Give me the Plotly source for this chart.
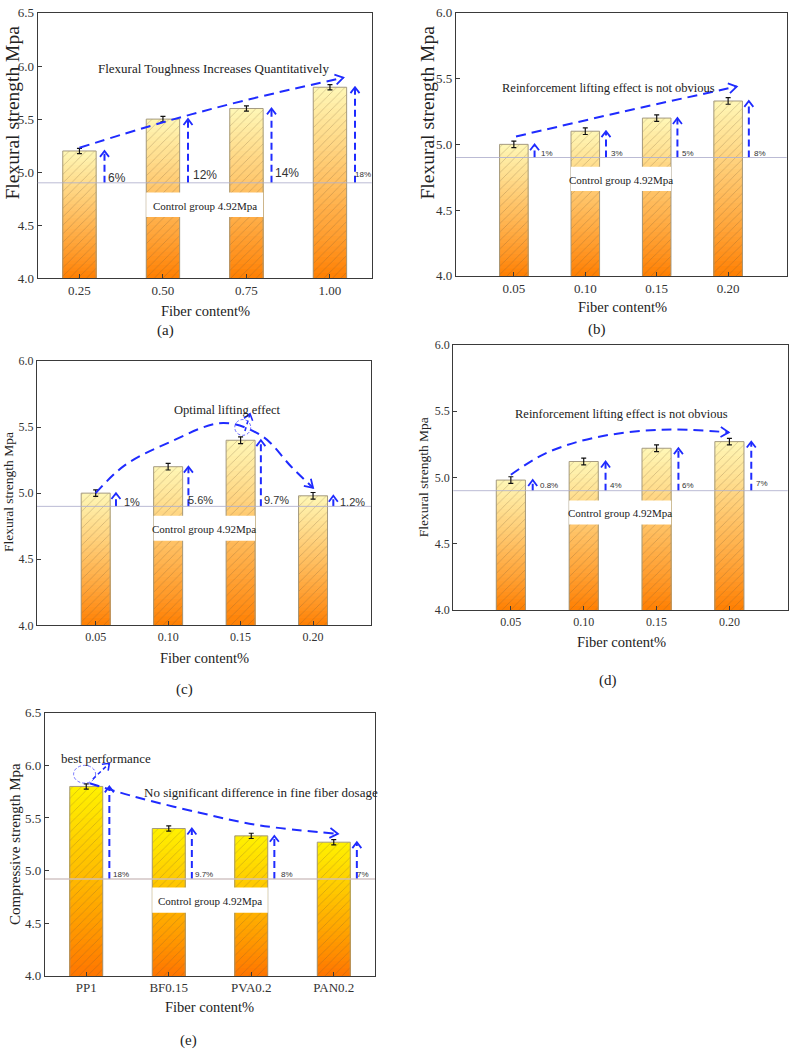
import plotly.graph_objects as go
import math

W, H = 790, 1056

# ---------------- data ----------------
a_labels = ["0.25", "0.50", "0.75", "1.00"]
a_vals = [5.20, 5.50, 5.60, 5.80]
a_err = [0.025, 0.025, 0.025, 0.025]
a_pct = ["6%", "12%", "14%", "18%"]

b_labels = ["0.05", "0.10", "0.15", "0.20"]
b_vals = [5.00, 5.10, 5.20, 5.33]
b_err = [0.025, 0.025, 0.025, 0.025]
b_pct = ["1%", "3%", "5%", "8%"]

c_labels = ["0.05", "0.10", "0.15", "0.20"]
c_vals = [5.00, 5.20, 5.40, 4.98]
c_err = [0.025, 0.025, 0.025, 0.025]
c_pct = ["1%", "5.6%", "9.7%", "1.2%"]

d_labels = ["0.05", "0.10", "0.15", "0.20"]
d_vals = [4.98, 5.12, 5.22, 5.27]
d_err = [0.025, 0.025, 0.025, 0.025]
d_pct = ["0.8%", "4%", "6%", "7%"]

e_labels = ["PP1", "BF0.15", "PVA0.2", "PAN0.2"]
e_vals = [5.80, 5.40, 5.33, 5.27]
e_err = [0.025, 0.025, 0.025, 0.025]
e_pct = ["18%", "9.7%", "8%", "7%"]

control_levels = [4.90, 4.90, 4.90, 4.90, 4.92]
control_text = "Control group 4.92Mpa"

# ---------------- styling / layout per panel ----------------
SERIF = "Liberation Serif"
SANS = "Liberation Sans"
BLUE = "#1f2bff"

panels = [
    dict(labels=a_labels, vals=a_vals, err=a_err, pct=a_pct, ctrl=control_levels[0],
         px=(37.7, 371.7, 6.0, 275.3), xr=(-0.5, 3.5), yr=(4.0, 6.5),
         top=(255, 248, 182), bot=(255, 126, 0),
         box=(4.577, 4.808), ctext_y=4.68,
         pct_dx=[0.45, 0.50, 0.48, 0.40], pct_y=[4.95, 4.97, 4.99, 4.98],
         pct_size=[12, 12, 12, 8], pct_font=SANS,
         arr_dx=0.30,
         curve=[(0.0, 5.23), (1.0, 5.47), (2.0, 5.68), (3.16, 5.89)],
         note=("Flexural Toughness Increases Quantitatively", 1.6, 5.98, 13),
         ytitle=("Flexural strength Mpa", 12, 107, 19.5),
         xtitle=("Fiber content%", 205, 308, 14.5),
         plabel=("(a)", 165, 328), tick_size=13),
    dict(labels=b_labels, vals=b_vals, err=b_err, pct=b_pct, ctrl=control_levels[1],
         px=(456.0, 786.7, 6.0, 272.7), xr=(-0.81, 3.82), yr=(4.0, 6.0),
         top=(255, 248, 182), bot=(255, 126, 0),
         box=(4.645, 4.83), ctext_y=4.73,
         pct_dx=[0.46, 0.44, 0.44, 0.45], pct_y=[4.93, 4.93, 4.93, 4.93],
         pct_size=[8, 8, 8, 8], pct_font=SANS,
         arr_dx=0.29,
         curve=[(0.03, 5.06), (1.5, 5.245), (3.12, 5.44)],
         note=("Reinforcement lifting effect is not obvious", 1.32, 5.43, 12.5),
         ytitle=("Flexural strength Mpa", 427, 107, 19.5),
         xtitle=("Fiber content%", 622, 304, 14.5),
         plabel=("(b)", 597, 327), tick_size=13),
    dict(labels=c_labels, vals=c_vals, err=c_err, pct=c_pct, ctrl=control_levels[2],
         px=(37.0, 371.0, 359.0, 627.3), xr=(-0.81, 3.80), yr=(4.0, 6.0),
         top=(255, 248, 182), bot=(255, 126, 0),
         box=(4.64, 4.83), ctext_y=4.73,
         pct_dx=[0.50, 0.45, 0.49, 0.54], pct_y=[4.93, 4.945, 4.945, 4.93],
         pct_size=[11, 11, 11, 11], pct_font=SANS,
         arr_dx=0.28,
         curve=[(0.0, 5.0), (0.4, 5.21), (1.0, 5.38), (1.76, 5.53), (2.3, 5.43),
                (2.7, 5.2), (3.0, 5.04)],
         note=("Optimal lifting effect", 1.82, 5.63, 12.5),
         ytitle=("Flexural strength Mpa", 8, 492, 13.5),
         xtitle=("Fiber content%", 204, 660, 14.5),
         plabel=("(c)", 184, 692), tick_size=12),
    dict(labels=d_labels, vals=d_vals, err=d_err, pct=d_pct, ctrl=control_levels[3],
         px=(453.3, 787.7, 342.7, 611.7), xr=(-0.79, 3.80), yr=(4.0, 6.0),
         top=(255, 248, 182), bot=(255, 126, 0),
         box=(4.645, 4.825), ctext_y=4.73,
         pct_dx=[0.52, 0.45, 0.43, 0.45], pct_y=[4.94, 4.94, 4.94, 4.955],
         pct_size=[8, 8, 8, 8], pct_font=SANS,
         arr_dx=0.30,
         curve=[(0.0, 5.02), (0.47, 5.18), (1.15, 5.30), (2.07, 5.36), (2.99, 5.34)],
         note=("Reinforcement lifting effect is not obvious", 1.52, 5.48, 12.5),
         ytitle=("Flexural strength Mpa", 423, 477, 13.5),
         xtitle=("Fiber content%", 621, 644, 14.5),
         plabel=("(d)", 608, 683), tick_size=12),
    dict(labels=e_labels, vals=e_vals, err=e_err, pct=e_pct, ctrl=control_levels[4],
         px=(45.0, 375.0, 716.0, 982.7), xr=(-0.5, 3.5), yr=(4.0, 6.5),
         top=(255, 242, 0), bot=(255, 116, 0),
         box=(4.60, 4.84), ctext_y=4.71,
         pct_dx=[0.42, 0.43, 0.43, 0.36], pct_y=[4.96, 4.96, 4.96, 4.96],
         pct_size=[8, 8, 8, 8], pct_font=SANS,
         arr_dx=0.28,
         curve=[(0.04, 5.83), (0.6, 5.70), (1.375, 5.55), (2.1, 5.43), (3.05, 5.35)],
         note=("No significant difference in fine fiber dosage", 2.12, 5.74, 13),
         ytitle=("Compressive strength Mpa", 15, 849, 15),
         xtitle=("Fiber content%", 210, 1014, 14.5),
         plabel=("(e)", 188, 1048), tick_size=13),
]

fig = go.Figure()
shapes = []
annotations = []
N = 36  # gradient steps


def lerp(c0, c1, t):
    return "rgb(%d,%d,%d)" % tuple(round(c0[i] + (c1[i] - c0[i]) * t) for i in range(3))


def chevron(tx, ty, dx_px, dy_px, sx, sy, length=6.0, half=4.5):
    n = math.hypot(dx_px, dy_px)
    ux, uy = dx_px / n, dy_px / n
    px_, py_ = -uy, ux
    p1 = (tx + (-length * ux + half * px_) / sx, ty + (-length * uy + half * py_) / sy)
    p2 = (tx + (-length * ux - half * px_) / sx, ty + (-length * uy - half * py_) / sy)
    return [p1[0], tx, p2[0]], [p1[1], ty, p2[1]]


def paper_text(text, x, y, size, angle=0):
    return dict(text=text, x=x / W, y=1 - y / H, xref="paper", yref="paper",
                xanchor="center", yanchor="middle", showarrow=False, textangle=angle,
                font=dict(family=SERIF, size=size, color="#222"))


for idx, p in enumerate(panels):
    n = idx + 1
    xa = "x" if n == 1 else "x%d" % n
    ya = "y" if n == 1 else "y%d" % n
    x0p, x1p, y0p, y1p = p["px"]
    sx = (x1p - x0p) / (p["xr"][1] - p["xr"][0])
    sy = (y1p - y0p) / (p["yr"][1] - p["yr"][0])
    xs = list(range(len(p["vals"])))
    base = p["yr"][0]

    # gradient bars (nested, tallest first)
    for k in range(N):
        frac = 1 - k / N
        heights = [base + (v - base) * frac for v in p["vals"]]
        t = max(0.0, frac - 0.5 / N)
        fig.add_trace(go.Bar(x=xs, y=heights, width=0.4, xaxis=xa, yaxis=ya,
                             marker=dict(color=lerp(p["bot"], p["top"], t ** 0.9), line=dict(width=0)),
                             showlegend=False, hoverinfo="skip"))
    # hatch overlay + error bars
    fig.add_trace(go.Bar(x=xs, y=p["vals"], width=0.4, xaxis=xa, yaxis=ya,
                         marker=dict(color="rgba(0,0,0,0)",
                                     line=dict(color="rgba(160,150,125,0.95)", width=1),
                                     pattern=dict(shape="/", fgcolor="rgba(110,85,50,0.6)",
                                                  bgcolor="rgba(0,0,0,0)", size=6, solidity=0.14)),
                         error_y=dict(type="data", array=p["err"], color="#111",
                                      thickness=1.2, width=2.5),
                         showlegend=False, hoverinfo="skip"))

    # control line and white box
    shapes.append(dict(type="line", xref=xa + " domain", yref=ya, x0=0, x1=1,
                       y0=p["ctrl"], y1=p["ctrl"], layer="above",
                       line=dict(color="rgba(175,175,205,0.85)" if n < 5 else "rgba(205,190,190,0.9)",
                                 width=1 if n < 5 else 1.5)))
    shapes.append(dict(type="rect", xref=xa, yref=ya, x0=0.8, x1=2.2,
                       y0=p["box"][0], y1=p["box"][1], layer="above",
                       fillcolor="white", line=dict(width=0)))
    annotations.append(dict(text=control_text, x=1.5, y=p["ctext_y"], xref=xa, yref=ya,
                            xanchor="center", yanchor="middle",
                            showarrow=False, font=dict(family=SERIF, size=11, color="#222")))

    # vertical dashed arrows
    for i, v in enumerate(p["vals"]):
        ax = i + p["arr_dx"]
        fig.add_trace(go.Scatter(x=[ax, ax], y=[p["ctrl"], v - 1.0 / sy], mode="lines",
                                 xaxis=xa, yaxis=ya, showlegend=False, hoverinfo="skip",
                                 line=dict(color=BLUE, width=2, dash="7px,4px")))
        cx, cy = chevron(ax, v, 0, 1, sx, sy, length=6, half=4.5)
        fig.add_trace(go.Scatter(x=cx, y=cy, mode="lines", xaxis=xa, yaxis=ya,
                                 showlegend=False, hoverinfo="skip",
                                 line=dict(color=BLUE, width=1.8)))
        annotations.append(dict(text=p["pct"][i], x=i + p["pct_dx"][i], y=p["pct_y"][i],
                                xref=xa, yref=ya, showarrow=False,
                                xanchor="center", yanchor="middle",
                                font=dict(family=p["pct_font"], size=p["pct_size"][i], color="#333")))

    # trend curve
    cxs = [q[0] for q in p["curve"]]
    cys = [q[1] for q in p["curve"]]
    fig.add_trace(go.Scatter(x=cxs, y=cys, mode="lines", xaxis=xa, yaxis=ya,
                             showlegend=False, hoverinfo="skip",
                             line=dict(color=BLUE, width=2, dash="10px,6px", shape="spline",
                                       smoothing=1.0)))
    dxp = (cxs[-1] - cxs[-2]) * sx
    dyp = (cys[-1] - cys[-2]) * sy
    hx, hy = chevron(cxs[-1], cys[-1], dxp, dyp, sx, sy, length=8, half=5)
    fig.add_trace(go.Scatter(x=hx, y=hy, mode="lines", xaxis=xa, yaxis=ya,
                             showlegend=False, hoverinfo="skip",
                             line=dict(color=BLUE, width=1.8)))

    # note text
    t_, tx_, ty_, ts_ = p["note"]
    annotations.append(dict(text=t_, x=tx_, y=ty_, xref=xa, yref=ya, showarrow=False,
                            xanchor="center", yanchor="middle",
                            font=dict(family=SERIF, size=ts_, color="#222")))

    # titles & panel label (paper coords)
    yt, yx, yy, ys = p["ytitle"]
    annotations.append(paper_text(yt, yx, yy, ys, angle=-90))
    xt, xx, xy, xsz = p["xtitle"]
    annotations.append(paper_text(xt, xx, xy, xsz))
    pl, plx, ply = p["plabel"]
    annotations.append(paper_text(pl, plx, ply, 15))

    axis_common = dict(showline=True, linecolor="#3a3a3a", linewidth=1.3, mirror=True,
                       showgrid=False, zeroline=False, ticks="inside", ticklen=4,
                       tickcolor="#3a3a3a",
                       tickfont=dict(family=SERIF, size=p["tick_size"], color="#333"))
    fig.layout["xaxis" if n == 1 else "xaxis%d" % n] = dict(
        domain=[x0p / W, x1p / W], range=list(p["xr"]), anchor=ya,
        tickvals=xs, ticktext=p["labels"], **axis_common)
    fig.layout["yaxis" if n == 1 else "yaxis%d" % n] = dict(
        domain=[1 - y1p / H, 1 - y0p / H], range=list(p["yr"]), anchor=xa,
        dtick=0.5, tickformat=".1f", **axis_common)

# extra markers: dashed circles and small arrows in (c) and (e)
pc = panels[2]
sxc = (pc["px"][1] - pc["px"][0]) / (pc["xr"][1] - pc["xr"][0])
syc = (pc["px"][3] - pc["px"][2]) / (pc["yr"][1] - pc["yr"][0])
shapes.append(dict(type="circle", xref="x3", yref="y3",
                   x0=2.03 - 8 / sxc, x1=2.03 + 8 / sxc, y0=5.497 - 8 / syc, y1=5.497 + 8 / syc,
                   line=dict(color="rgba(70,70,255,0.8)", width=1, dash="3px,2px")))
fig.add_trace(go.Scatter(x=[2.06, 2.13], y=[5.47, 5.60], mode="lines", xaxis="x3", yaxis="y3",
                         showlegend=False, hoverinfo="skip",
                         line=dict(color=BLUE, width=1.6, dash="4px,3px")))
hx, hy = chevron(2.13, 5.60, 0.07 * sxc, 0.13 * syc, sxc, syc, length=6, half=4.5)
fig.add_trace(go.Scatter(x=hx, y=hy, mode="lines", xaxis="x3", yaxis="y3",
                         showlegend=False, hoverinfo="skip", line=dict(color=BLUE, width=1.6)))

pe = panels[4]
sxe = (pe["px"][1] - pe["px"][0]) / (pe["xr"][1] - pe["xr"][0])
sye = (pe["px"][3] - pe["px"][2]) / (pe["yr"][1] - pe["yr"][0])
shapes.append(dict(type="circle", xref="x5", yref="y5",
                   x0=-0.02 - 11 / sxe, x1=-0.02 + 11 / sxe, y0=5.916 - 9 / sye, y1=5.916 + 9 / sye,
                   line=dict(color="rgba(70,70,255,0.8)", width=1, dash="3px,2px")))
fig.add_trace(go.Scatter(x=[0.08, 0.28], y=[5.87, 6.02], mode="lines", xaxis="x5", yaxis="y5",
                         showlegend=False, hoverinfo="skip",
                         line=dict(color=BLUE, width=1.6, dash="4px,3px")))
hx, hy = chevron(0.28, 6.02, 0.20 * sxe, 0.15 * sye, sxe, sye, length=6, half=4.5)
fig.add_trace(go.Scatter(x=hx, y=hy, mode="lines", xaxis="x5", yaxis="y5",
                         showlegend=False, hoverinfo="skip", line=dict(color=BLUE, width=1.6)))
annotations.append(dict(text="best performance", x=0.24, y=6.07, xref="x5", yref="y5",
                        xanchor="center", yanchor="middle",
                        showarrow=False, font=dict(family=SERIF, size=13, color="#222")))

fig.update_layout(width=W, height=H, margin=dict(l=0, r=0, t=0, b=0),
                  paper_bgcolor="white", plot_bgcolor="white",
                  barmode="overlay", showlegend=False,
                  shapes=shapes, annotations=annotations)

fig.write_html("out.html")
